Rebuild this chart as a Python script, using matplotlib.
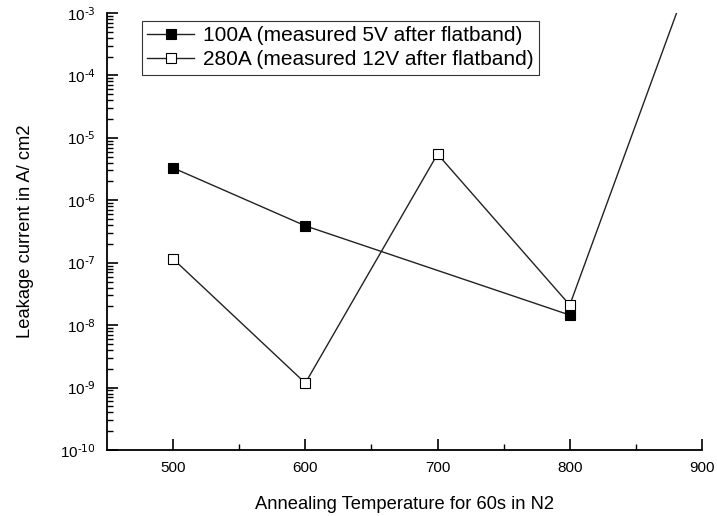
import matplotlib
matplotlib.use("Agg")
import matplotlib.pyplot as plt
from matplotlib.ticker import FixedLocator, NullFormatter, FixedFormatter

plt.rcParams['font.family'] = ['Liberation Sans', 'DejaVu Sans']
plt.rcParams['mathtext.default'] = 'regular'

temps_100 = [500, 600, 800]
leak_100 = [3.3e-6, 3.9e-7, 1.45e-8]
temps_280 = [500, 600, 700, 800, 900]
leak_280 = [1.15e-7, 1.18e-9, 5.5e-6, 2.1e-8, 1.3e-2]
label_100 = "100A (measured 5V after flatband)"
label_280 = "280A (measured 12V after flatband)"
xticks = [500, 600, 700, 800, 900]
xminor = [550, 650, 750, 850]
ydecades = [-10, -9, -8, -7, -6, -5, -4, -3]

fig = plt.figure(figsize=(7.17, 5.16), dpi=100)
ax = fig.add_axes([107/717, 1 - 450/516, (702-107)/717, (450-13)/516])

ax.plot(temps_100, leak_100, color='#222222', lw=1.0, marker='s', ms=6.5,
        mfc='black', mec='black', mew=0.8, label=label_100)
ax.plot(temps_280, leak_280, color='#222222', lw=1.0, marker='s', ms=6.5,
        mfc='white', mec='black', mew=0.8, label=label_280)

ax.set_yscale('log')
ax.set_xlim(450, 900)
ax.set_ylim(1e-10, 1e-3)
ax.xaxis.set_major_locator(FixedLocator(xticks))
ax.xaxis.set_minor_locator(FixedLocator(xminor))

ymajor = [10.0 ** d for d in ydecades]
yminor = [m * 10.0 ** d for d in ydecades[:-1] for m in range(2, 10)]
ax.yaxis.set_major_locator(FixedLocator(ymajor))
ax.yaxis.set_minor_locator(FixedLocator(yminor))
ax.yaxis.set_major_formatter(FixedFormatter([r"$10^{\text{%d}}$" % d for d in ydecades]))
ax.yaxis.set_minor_formatter(NullFormatter())

ax.spines['top'].set_visible(False)
ax.spines['right'].set_visible(False)
for s in ['left', 'bottom']:
    ax.spines[s].set_linewidth(1.3)

ax.tick_params(axis='both', which='major', direction='in', length=8, width=1.2,
               labelsize=11, pad=8)
ax.tick_params(axis='both', which='minor', direction='in', length=4, width=1.0)

ax.set_xlabel("Annealing Temperature for 60s in N2", fontsize=13.2, labelpad=15)
ax.set_ylabel("Leakage current in A/ cm2", fontsize=13.2, labelpad=19)

leg = ax.legend(loc='upper left', bbox_to_anchor=((142-107)/595, 1 - (21-13)/437),
                fontsize=15, frameon=True, fancybox=False, borderpad=0.25,
                handlelength=2.25, handletextpad=0.45, labelspacing=0.25,
                borderaxespad=0)
leg.get_frame().set_edgecolor('black')
leg.get_frame().set_linewidth(0.8)

fig.savefig("out.png", dpi=100)
